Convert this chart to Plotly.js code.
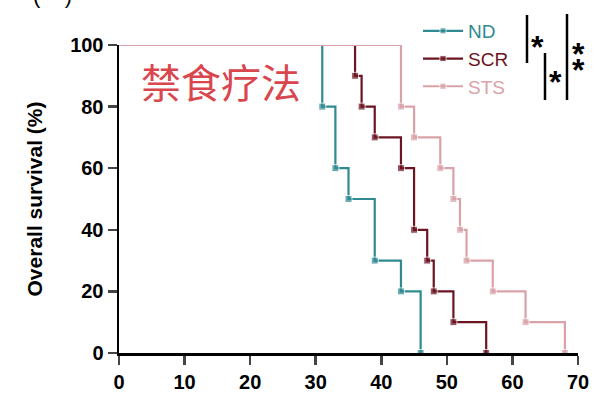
<!DOCTYPE html>
<html><head><meta charset="utf-8">
<script src="https://cdn.plot.ly/plotly-3.0.1.min.js"></script>
<style>html,body{margin:0;padding:0;background:#fff;}#c{width:600px;height:396px;}</style>
</head><body><div id="c"></div>
<script>
// Kaplan-Meier step data (time of drop, survival after drop)
const ndTimes  = [0, 31, 33, 35, 39, 43, 46];
const ndSurv   = [100, 80, 60, 50, 30, 20, 0];
const scrTimes = [0, 36, 37, 39, 43, 45, 47, 48, 51, 56];
const scrSurv  = [100, 90, 80, 70, 60, 40, 30, 20, 10, 0];
const stsTimes = [0, 43, 45, 49, 51, 52, 53, 57, 62, 68];
const stsSurv  = [100, 80, 70, 60, 50, 40, 30, 20, 10, 0];
const xTicks = [0, 10, 20, 30, 40, 50, 60, 70];
const yTicks = [0, 20, 40, 60, 80, 100];

const colors = {ND:'#2f8a91', SCR:'#6b1422', STS:'#d9a2a8'};
function tr(name, x, y, col){
  return {x:x, y:y, type:'scatter', mode:'lines+markers', name:'<span style="color:'+col+'">'+name+'</span>',
    line:{shape:'hv', color:col, width:2.2},
    marker:{symbol:'square', size:x.map((v,i)=>i===0?0:7), color:col},
    cliponaxis:false};
}
const data = [tr('ND', ndTimes, ndSurv, colors.ND), tr('SCR', scrTimes, scrSurv, colors.SCR), tr('STS', stsTimes, stsSurv, colors.STS)];

const L=119, W=459, T=45, H=308;
const px = p => (p-L)/W, py = p => (T+H-p)/H;
const bar = (x,y0,y1)=>({type:'line', xref:'paper', yref:'paper', x0:px(x), x1:px(x), y0:py(y0), y1:py(y1), line:{color:'#000', width:2.5}});
const star = (x,y)=>({xref:'paper', yref:'paper', x:px(x), y:py(y), text:'<b>*</b>', showarrow:false, font:{size:32, color:'#000', family:'Liberation Sans, Arial'}, xanchor:'center', yanchor:'middle'});

const layout = {
  width:600, height:396, margin:{l:L, r:600-L-W, t:T, b:396-T-H},
  paper_bgcolor:'#fff', plot_bgcolor:'#fff',
  font:{family:'Liberation Sans, Arial, sans-serif', color:'#000'},
  xaxis:{range:[0,70], tickvals:xTicks, ticks:'outside', ticklen:9, tickwidth:2.5, showline:true, linewidth:2.5, linecolor:'#000', showgrid:false, zeroline:false, tickfont:{size:20, weight:'bold'}},
  yaxis:{range:[0,100], tickvals:yTicks, ticks:'outside', ticklen:9, tickwidth:2.5, showline:true, linewidth:2.5, linecolor:'#000', showgrid:false, zeroline:false, tickfont:{size:20, weight:'bold'},
    title:{text:'Overall survival (%)', font:{size:21, weight:'bold'}, standoff:22}},
  showlegend:true,
  legend:{x:px(418), y:py(12), xanchor:'left', yanchor:'top', bgcolor:'rgba(0,0,0,0)', font:{size:19}, itemwidth:40, tracegroupgap:0},
  shapes:[bar(527,15,63), bar(545,53,100), bar(567,14,100)],
  annotations:[
    star(537,47), star(555,82), star(578,54), star(578,70),
    {xref:'paper', yref:'paper', x:px(139), y:py(81), xanchor:'left', yanchor:'middle', showarrow:false, text:'禁食疗法', font:{size:40, color:'#d9464e', family:'Noto Sans CJK SC'}},
    {xref:'paper', yref:'paper', x:px(52), y:py(10), xanchor:'center', yanchor:'bottom', showarrow:false, text:'(    )', font:{size:22, color:'#000'}}
  ]
};
Plotly.newPlot('c', data, layout, {displayModeBar:false, staticPlot:true});
</script></body></html>
